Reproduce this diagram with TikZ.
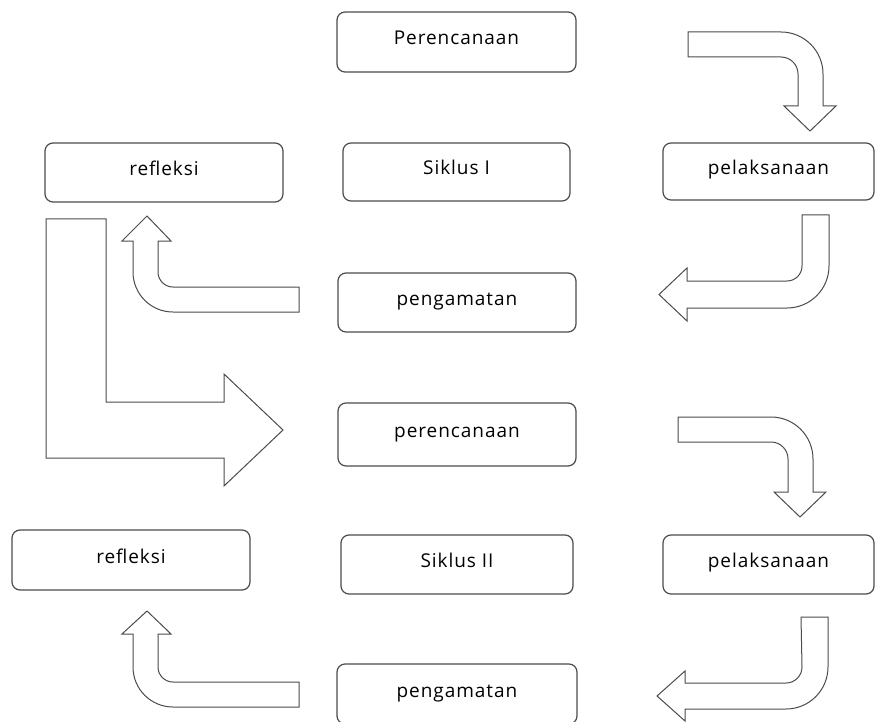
\documentclass[tikz,border=0pt]{standalone}
\usepackage{fontspec}
\setmainfont[LetterSpace=5]{Open Sans}
\begin{document}
\begin{tikzpicture}[x=1pt,y=1pt,
  box/.style={draw=black!70, line width=1.2pt, rounded corners=8pt, fill=white,
    font=\fontsize{19}{22}\selectfont, text height=13pt, text depth=7pt, inner sep=0pt},
  blockarrow/.style={draw=black!70, line width=1pt, fill=white, line join=miter}]
\clip (0,0) rectangle (894,-722);
\fill[white] (0,0) rectangle (894,-722);
% boxes
\node[box, minimum width=239pt, minimum height=60pt] (p1) at (456.5,-42) {Perencanaan};
\node[box, minimum width=238pt, minimum height=59pt] (r1) at (164,-172.5) {refleksi};
\node[box, minimum width=227pt, minimum height=58pt] (s1) at (456.5,-172) {Siklus I};
\node[box, minimum width=211pt, minimum height=57pt] (l1) at (768.5,-171.5) {pelaksanaan};
\node[box, minimum width=238pt, minimum height=59pt] (g1) at (457,-302.5) {pengamatan};
\node[box, minimum width=238pt, minimum height=63pt] (p2) at (457,-434.5) {perencanaan};
\node[box, minimum width=238pt, minimum height=60pt] (r2) at (131,-560) {refleksi};
\node[box, minimum width=232pt, minimum height=59pt] (s2) at (457,-564.5) {Siklus II};
\node[box, minimum width=211pt, minimum height=59pt] (l2) at (768.5,-564.5) {pelaksanaan};
\node[box, minimum width=240pt, minimum height=60pt] (g2) at (457,-694) {pengamatan};
% arrow: Perencanaan -> pelaksanaan
\draw[blockarrow] (688,-32) -- (781,-32) arc (90:0:42) -- (823,-106) -- (836,-106) -- (810,-131)
  -- (784,-106) -- (798,-106) -- (798,-74) arc (0:90:17) -- (688,-57) -- cycle;
% arrow: pelaksanaan -> pengamatan
\draw[blockarrow] (802,-215) -- (829,-215) -- (829,-266) arc (0:-90:42) -- (687,-308) -- (687,-321)
  -- (659,-294.5) -- (687,-268) -- (687,-281) -- (787,-281) arc (-90:0:15) -- cycle;
% arrow: pengamatan -> refleksi
\draw[blockarrow] (299,-287) -- (299,-312) -- (173,-312) arc (270:180:40) -- (133,-241) -- (122,-241)
  -- (147,-216) -- (171,-241) -- (158,-241) -- (158,-272) arc (180:270:15) -- cycle;
% L arrow: refleksi -> perencanaan
\draw[blockarrow] (46,-219) -- (106,-219) -- (106,-402) -- (224,-402) -- (224,-374) -- (283,-430)
  -- (224,-486) -- (224,-458) -- (46,-458) -- cycle;
% arrow: perencanaan -> pelaksanaan (II)
\draw[blockarrow] (678,-417) -- (771,-417) arc (90:0:42) -- (813,-492) -- (826,-492) -- (800,-517)
  -- (774,-492) -- (788,-492) -- (788,-459) arc (0:90:17) -- (678,-442) -- cycle;
% arrow: pelaksanaan -> pengamatan (II)
\draw[blockarrow] (801,-617) -- (828,-617) -- (828,-667) arc (0:-90:42) -- (685,-709) -- (685,-721)
  -- (657,-696) -- (685,-671) -- (685,-683) -- (786,-683) arc (-90:0:16) -- cycle;
% arrow: pengamatan -> refleksi (II)
\draw[blockarrow] (299,-682) -- (299,-707) -- (173,-707) arc (270:180:40) -- (133,-634) -- (122,-634)
  -- (147,-611) -- (171,-634) -- (158,-634) -- (158,-667) arc (180:270:15) -- cycle;
\end{tikzpicture}
\end{document}
